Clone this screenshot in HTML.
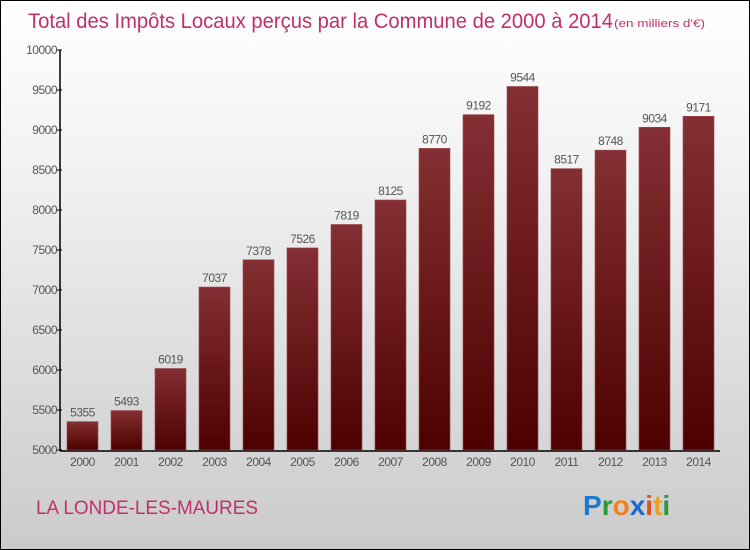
<!DOCTYPE html>
<html><head><meta charset="utf-8"><style>
body{margin:0}
#c{width:750px;height:550px;position:relative;box-sizing:border-box;border:1px solid #000;background:linear-gradient(#fff 0%,#f2f2f2 30%,#d8d8d8 75%,#cbcbcb 100%);font-family:"Liberation Sans",sans-serif;overflow:hidden}
</style></head><body>
<div id="c">
<svg width="750" height="550" style="position:absolute;left:-1px;top:-1px">
<defs><linearGradient id="g" x1="0" y1="0" x2="0" y2="1"><stop offset="0" stop-color="#842f33"/><stop offset="1" stop-color="#4e0000"/></linearGradient></defs>
<text x="28" y="28" font-size="21" fill="#c0306a" textLength="585" lengthAdjust="spacingAndGlyphs">Total des Impôts Locaux perçus par la Commune de 2000 à 2014</text>
<text x="614" y="27" font-size="11" fill="#c0306a" textLength="91" lengthAdjust="spacingAndGlyphs">(en milliers d'€)</text>
<g id="plot"></g>
<text x="36" y="514" font-size="19" fill="#c0306a" textLength="222" lengthAdjust="spacingAndGlyphs">LA LONDE-LES-MAURES</text>
<text x="583" y="515" font-size="28" font-weight="bold"><tspan fill="#1a7ad0">P</tspan><tspan fill="#2a9a3a">r</tspan><tspan fill="#f08020">o</tspan><tspan fill="#1a6ad0">x</tspan><tspan fill="#e05020">i</tspan><tspan fill="#f0a020">t</tspan><tspan fill="#2a9a3a">i</tspan></text>
</svg>
</div>
<script>
const categories=["2000","2001","2002","2003","2004","2005","2006","2007","2008","2009","2010","2011","2012","2013","2014"];
const values=[5355,5493,6019,7037,7378,7526,7819,8125,8770,9192,9544,8517,8748,9034,9171];
const yTicks=[5000,5500,6000,6500,7000,7500,8000,8500,9000,9500,10000];
const NS="http://www.w3.org/2000/svg";
const g=document.getElementById('plot');
const y=v=>450-(v-5000)*0.08;
const x=i=>67+i*44;
function mk(t,a,txt){const e=document.createElementNS(NS,t);for(const k in a)e.setAttribute(k,a[k]);if(txt!=null)e.textContent=txt;g.appendChild(e);return e;}
let ax=mk('line',{x1:60,y1:50,x2:60,y2:451,stroke:'#000','stroke-width':1.5});


let bx=mk('line',{x1:60,y1:451,x2:720,y2:451,stroke:'#000','stroke-width':1.5});


yTicks.forEach(t=>{
 let l=mk('line',{x1:57,y1:y(t),x2:62,y2:y(t),stroke:'#000'});
 
 
 let s=mk('text',{x:57,y:y(t)+4,'font-size':12,fill:'#555','text-anchor':'end','letter-spacing':'-0.5'},t);
 
 
});
categories.forEach((c,i)=>{
 let r=mk('rect',{x:x(i),y:y(values[i]),width:31,height:450-y(values[i]),fill:'url(#g)',stroke:'#9a4a4e','stroke-width':0.6});
 
 
 let v=mk('text',{x:x(i)+15.5,y:y(values[i])-5,'font-size':12,fill:'#555','text-anchor':'middle','letter-spacing':'-0.5'},values[i]);
 
 
 let l=mk('text',{x:x(i)+15.5,y:466,'font-size':12,fill:'#555','text-anchor':'middle','letter-spacing':'-0.5'},c);
 
 
});
</script>
</body></html>
